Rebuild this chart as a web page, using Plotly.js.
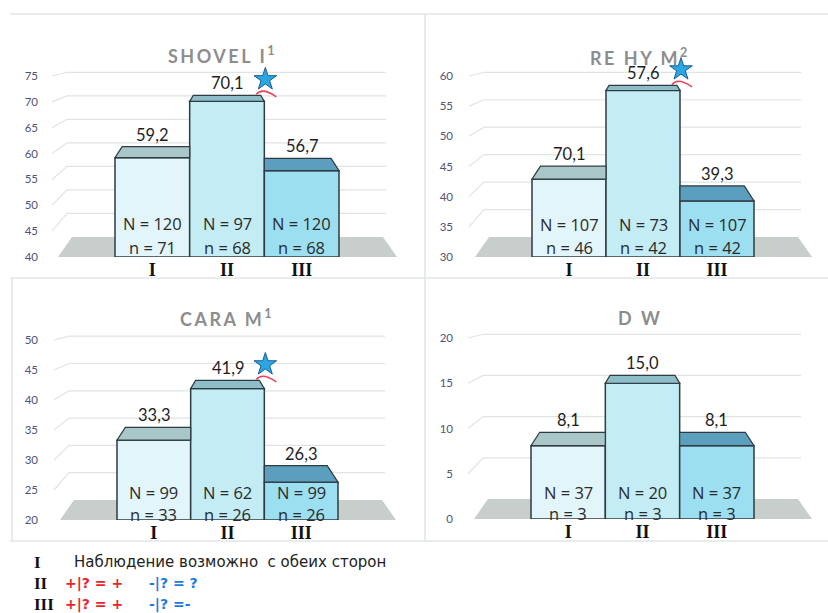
<!DOCTYPE html>
<html><head><meta charset="utf-8">
<script src="https://cdn.plot.ly/plotly-3.0.1.min.js"></script>
<style>html,body{margin:0;padding:0;background:#fff}#chart{width:828px;height:613px}</style>
</head><body><div id="chart"></div>
<script>
// ---------------- DATA ----------------
const categories = ['I', 'II', 'III'];

const shovelValues = [59.2, 70.1, 56.7];
const shovelLabels = ['59,2', '70,1', '56,7'];
const shovelN = [120, 97, 120];
const shovelSmallN = [71, 68, 68];
const shovelTicks = [40, 45, 50, 55, 60, 65, 70, 75];

const rehyValues = [42.9, 57.6, 39.3];
const rehyLabels = ['70,1', '57,6', '39,3'];
const rehyN = [107, 73, 107];
const rehySmallN = [46, 42, 42];
const rehyTicks = [30, 35, 40, 45, 50, 55, 60];

const caraValues = [33.3, 41.9, 26.3];
const caraLabels = ['33,3', '41,9', '26,3'];
const caraN = [99, 62, 99];
const caraSmallN = [33, 26, 26];
const caraTicks = [20, 25, 30, 35, 40, 45, 50];

const dwValues = [8.1, 15.0, 8.1];
const dwLabels = ['8,1', '15,0', '8,1'];
const dwN = [37, 20, 37];
const dwSmallN = [3, 3, 3];
const dwTicks = [0, 5, 10, 15, 20];

const panelTitles = ['SHOVEL I<sup>1</sup>', 'RE HY M<sup>2</sup>', 'CARA M<sup>1</sup>', 'D W'];
const starFlags = [[false, true, false], [false, true, false], [false, true, false], [false, false, false]];

const legendMarks = ['I', 'II', 'III'];
const legendText = 'Наблюдение возможно  с обеих сторон';
const legendPlus = ['+|? = +', '+|? = +'];
const legendMinus = ['-|? = ?', '-|? =-'];

// ---------------- STYLE / GEOMETRY ----------------
const W = 828, H = 613;
const frontColors = ['#e2f5fa', '#c3ecf5', '#9cdff0'];
const topColors = ['#a9c6c8', '#8ebdca', '#5b9ebd'];
const edgeColor = '#2f3b40';
const geoms = [
  {xBarL:115, xBarR:339, floorPx:257, topTickPx:76, domL:48, domR:404, domTop:40, nOff:[34,10], title:[223,55]},
  {xBarL:532, xBarR:754, floorPx:257, topTickPx:76, domL:463, domR:822, domTop:40, nOff:[33,10], title:[640,57]},
  {xBarL:117, xBarR:338, floorPx:520, topTickPx:340, domL:48, domR:404, domTop:300, nOff:[28,6], title:[227,318]},
  {xBarL:531, xBarR:754, floorPx:519, topTickPx:338, domL:463, domR:822, domTop:300, nOff:[27,6], title:[640,318]}
];
const panels = [
  {values:shovelValues, labels:shovelLabels, N:shovelN, n:shovelSmallN, ticks:shovelTicks},
  {values:rehyValues, labels:rehyLabels, N:rehyN, n:rehySmallN, ticks:rehyTicks},
  {values:caraValues, labels:caraLabels, N:caraN, n:caraSmallN, ticks:caraTicks},
  {values:dwValues, labels:dwLabels, N:dwN, n:dwSmallN, ticks:dwTicks}
];

const traces = [], shapes = [], annotations = [];
const layout = {
  width: W, height: H, autosize: false,
  margin: {l:0, r:0, t:0, b:0, pad:0},
  paper_bgcolor: '#ffffff', plot_bgcolor: 'rgba(0,0,0,0)',
  showlegend: false,
  font: {family: 'Lato, sans-serif', color: '#222'}
};

const depthAt = h => 20 - 0.09 * h;

panels.forEach((d, k) => {
  const g = geoms[k];
  const sfx = k === 0 ? '' : String(k + 1);
  const xref = 'x' + sfx, yref = 'y' + sfx;
  const tmin = d.ticks[0], tmax = d.ticks[d.ticks.length - 1];
  const ppy = (g.floorPx - g.topTickPx) / (tmax - tmin);
  const w = (g.xBarR - g.xBarL) / 3;
  const X = px => -0.5 + (px - g.xBarL) / w;
  const Y = py => tmin + (g.floorPx - py) / ppy;

  layout['xaxis' + sfx] = {
    domain: [g.domL / W, g.domR / W],
    range: [-0.5 - (g.xBarL - g.domL) / w, 2.5 + (g.domR - g.xBarR) / w],
    anchor: yref, tickvals: [0, 1, 2], ticktext: categories,
    tickfont: {family: 'Liberation Serif, serif', size: 18, color: '#111', weight: 'bold'},
    showgrid: false, zeroline: false, showline: false, ticks: '', fixedrange: true
  };
  layout['yaxis' + sfx] = {
    domain: [1 - g.floorPx / H, 1 - g.domTop / H],
    range: [tmin, tmin + (g.floorPx - g.domTop) / ppy],
    anchor: xref, tickvals: d.ticks, ticktext: d.ticks.map(String),
    tickfont: {family: 'Lato, sans-serif', size: 11.5, color: '#4f5279'},
    showgrid: false, zeroline: false, showline: false, ticks: '', ticklabelstandoff: 9, fixedrange: true
  };

  // floor
  const f = g.floorPx;
  shapes.push({type:'path', xref, yref, layer:'below', line:{width:0}, fillcolor:'#c7cecb',
    path:`M${X(g.xBarL-57)},${Y(f)} L${X(g.xBarR+58)},${Y(f)} L${X(g.xBarR+44)},${Y(f-20)} L${X(g.xBarL-43)},${Y(f-20)} Z`});

  // back-wall gridlines with side-wall diagonals
  d.ticks.slice(1).forEach(t => {
    const ly = f - (t - tmin) * ppy;
    const by = ly - depthAt(f - ly);
    const bxl = g.xBarL - 48, fx = bxl - 15, bxr = g.xBarR + 47;
    shapes.push({type:'path', xref, yref, layer:'below', line:{color:'#e0e4e4', width:1.2},
      path:`M${X(fx)},${Y(ly)} L${X(bxl)},${Y(by)} L${X(bxr)},${Y(by)}`});
  });

  // bars (front faces)
  traces.push({type:'bar', xaxis:xref, yaxis:yref, x:[0,1,2], base:tmin,
    y:d.values.map(v => v - tmin), width:1, cliponaxis:false, hoverinfo:'skip',
    marker:{color:frontColors, line:{color:edgeColor, width:1.5}}});

  d.values.forEach((v, i) => {
    const hpx = (v - tmin) * ppy, dep = depthAt(hpx);
    const left = g.xBarL + i * w, right = left + w;
    let sL, sR;
    if (i === 0) sL = 0.65 * dep; else sL = (d.values[i-1] > v) ? 0 : 0.6 * dep;
    if (i === 2) sR = 0.65 * dep; else sR = (d.values[i+1] > v) ? 0 : 0.6 * dep;
    const fy = f - hpx, by = fy - dep;
    shapes.push({type:'path', xref, yref, layer:'above', fillcolor:topColors[i],
      line:{color:edgeColor, width:1.2},
      path:`M${X(left)},${Y(fy)} L${X(right)},${Y(fy)} L${X(right-sR)},${Y(by)} L${X(left+sL)},${Y(by)} Z`});
    annotations.push({xref, yref, x:i, y:v, yshift:dep + 12, showarrow:false, text:d.labels[i],
      font:{family:'Lato, sans-serif', size:16.5, color:'#1e1e1e'}});
    annotations.push({xref, yref, x:i, y:tmin, yshift:g.nOff[0], showarrow:false, text:'N = ' + d.N[i],
      font:{family:'Open Sans, sans-serif', size:16.5, color:'#2a2a2a'}});
    annotations.push({xref, yref, x:i, y:tmin, yshift:g.nOff[1], showarrow:false, text:'n = ' + d.n[i],
      font:{family:'Open Sans, sans-serif', size:16.5, color:'#2a2a2a'}});
    if (starFlags[k][i]) {
      const sx = right + 1;
      shapes.push({type:'path', xref, yref, layer:'above', line:{color:'#e8415e', width:1.6},
        path:`M${X(right-8)},${Y(by-1)} Q${X(right-2)},${Y(by-8.5)} ${X(right+12)},${Y(by+1.5)}`});
      traces.push({type:'scatter', mode:'markers', xaxis:xref, yaxis:yref, cliponaxis:false, hoverinfo:'skip',
        x:[X(sx)], y:[Y(by - 16)],
        marker:{symbol:'star', size:17, color:'#2aa6e2', line:{color:'#1b5e96', width:1}}});
    }
  });

  annotations.push({xref:'paper', yref:'paper', x:g.title[0]/W, y:1 - g.title[1]/H, yanchor:'middle', xanchor:'center',
    showarrow:false, text:`<span style="letter-spacing:2.5px">${panelTitles[k]}</span>`,
    font:{family:'Lato, sans-serif', size:18, color:'#8d8d8d', weight:'bold'}});
});

// frame lines
const frameColor = '#e2e6e6';
[[10,14,828,14],[10,278,828,278],[10,541,828,541],[425,14,425,541],[12,278,12,541]].forEach(s => {
  shapes.push({type:'line', xref:'paper', yref:'paper', x0:s[0]/W, y0:1-s[1]/H, x1:s[2]/W, y1:1-s[3]/H,
    line:{color:frameColor, width:1.6}});
});

// legend block
const rowsY = [562, 583, 604];
legendMarks.forEach((m, r) => {
  annotations.push({xref:'paper', yref:'paper', x:32/W, y:1 - rowsY[r]/H, xanchor:'left', yanchor:'middle',
    showarrow:false, text:m, font:{family:'Liberation Serif, serif', size:17, color:'#111', weight:'bold'}});
});
annotations.push({xref:'paper', yref:'paper', x:72/W, y:1 - rowsY[0]/H, xanchor:'left', yanchor:'middle',
  showarrow:false, text:legendText, font:{family:'DejaVu Sans, sans-serif', size:15, color:'#222'}});
legendPlus.forEach((t, r) => {
  annotations.push({xref:'paper', yref:'paper', x:63/W, y:1 - rowsY[r+1]/H, xanchor:'left', yanchor:'middle',
    showarrow:false, text:t, font:{family:'DejaVu Sans, sans-serif', size:14, color:'#e8232b', weight:'bold'}});
  annotations.push({xref:'paper', yref:'paper', x:147/W, y:1 - rowsY[r+1]/H, xanchor:'left', yanchor:'middle',
    showarrow:false, text:legendMinus[r], font:{family:'DejaVu Sans, sans-serif', size:14, color:'#1a7be0', weight:'bold'}});
});

layout.shapes = shapes;
layout.annotations = annotations;
Plotly.newPlot('chart', traces, layout, {staticPlot:true, displayModeBar:false});
</script>
</body></html>
